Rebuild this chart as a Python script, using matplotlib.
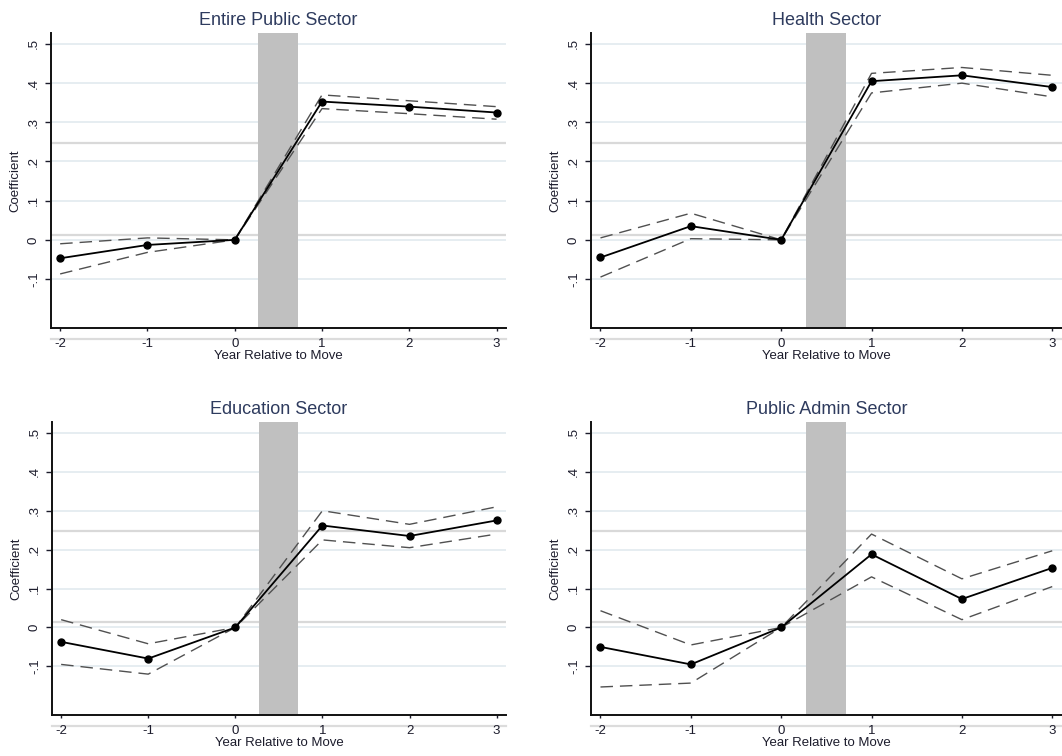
import numpy as np
import matplotlib
matplotlib.use("Agg")
from matplotlib import pyplot as plt

plt.rcParams['font.family'] = ['Liberation Sans', 'DejaVu Sans']

years = [-2, -1, 0, 1, 2, 3]
titles = ['Entire Public Sector', 'Health Sector', 'Education Sector', 'Public Admin Sector']

# point estimates and confidence bounds, one list per panel
coef_entire = [-0.047, -0.013, 0.0, 0.353, 0.340, 0.325]
upper_entire = [-0.010, 0.005, 0.0, 0.370, 0.355, 0.340]
lower_entire = [-0.087, -0.032, 0.0, 0.335, 0.322, 0.308]

coef_health = [-0.045, 0.035, 0.0, 0.405, 0.420, 0.390]
upper_health = [0.005, 0.068, 0.0, 0.425, 0.440, 0.420]
lower_health = [-0.095, 0.003, 0.0, 0.375, 0.400, 0.365]

coef_educ = [-0.037, -0.080, 0.0, 0.262, 0.235, 0.275]
upper_educ = [0.020, -0.042, 0.0, 0.300, 0.265, 0.310]
lower_educ = [-0.095, -0.120, 0.0, 0.225, 0.205, 0.240]

coef_admin = [-0.050, -0.095, 0.0, 0.188, 0.073, 0.153]
upper_admin = [0.043, -0.045, 0.0, 0.240, 0.125, 0.197]
lower_admin = [-0.153, -0.143, 0.0, 0.130, 0.020, 0.105]

yticks = [-0.1, 0, 0.1, 0.2, 0.3, 0.4, 0.5]
ytick_labels = ['-.1', '0', '.1', '.2', '.3', '.4', '.5']
band = (0.27, 0.72)

panels = [
    (coef_entire, upper_entire, lower_entire),
    (coef_health, upper_health, lower_health),
    (coef_educ, upper_educ, lower_educ),
    (coef_admin, upper_admin, lower_admin),
]

W, H = 1062, 756
# axes boxes in pixels: left, right, top, bottom
boxes = [(51, 506, 33, 328), (591, 1062, 33, 328),
         (52, 506, 422, 715), (591, 1062, 422, 715)]

fig = plt.figure(figsize=(W / 100, H / 100), dpi=100)
text_col = '#1c1c2c'

for (coef, up, lo), title, (l, r, t, b) in zip(panels, titles, boxes):
    ax = fig.add_axes([l / W, (H - b) / H, (r - l) / W, (b - t) / H])
    ax.set_xlim(-2.105, 3.108)
    ax.set_ylim(-0.225, 0.528)

    for yv in yticks:
        ax.axhline(yv, color='#e6edf1', lw=1.4, zorder=0)
    ax.axhline(0.247, color='#d9d9d9', lw=1.6, zorder=0)
    ax.axhline(0.013, color='#d9d9d9', lw=1.6, zorder=0)
    ax.axhline(-0.253, color='#dcdcdc', lw=1.6, clip_on=False, zorder=0)

    ax.axvspan(band[0], band[1], color='#c0c0c0', lw=0, zorder=1)

    ax.plot(years, coef, color='black', lw=1.3, marker='o', ms=5, zorder=4)
    ax.plot(years, up, color='#505050', lw=1.0, dashes=(9, 5), zorder=3)
    ax.plot(years, lo, color='#505050', lw=1.0, dashes=(9, 5), zorder=3)

    ax.set_xticks(years)
    ax.set_xticklabels([str(y) for y in years])
    ax.set_yticks(yticks)
    ax.set_yticklabels(ytick_labels, rotation=90, va='center')
    ax.tick_params(axis='y', length=4, width=1, pad=4, labelsize=9.5, colors=text_col)
    ax.tick_params(axis='x', length=2.5, width=1, pad=5, labelsize=9.5, colors=text_col)

    for side in ['top', 'right']:
        ax.spines[side].set_visible(False)
    for side in ['left', 'bottom']:
        ax.spines[side].set_linewidth(1.4)
        ax.spines[side].set_color('#111111')

    ax.set_title(title, fontsize=13, color='#2e3b5e', pad=6)
    ax.set_xlabel('Year Relative to Move', fontsize=9.5, color=text_col, labelpad=0)
    ax.set_ylabel('Coefficient', fontsize=9.5, color=text_col)
    ax.yaxis.set_label_coords(-30 / (r - l), 0.5)

fig.savefig('out.png', dpi=100)
